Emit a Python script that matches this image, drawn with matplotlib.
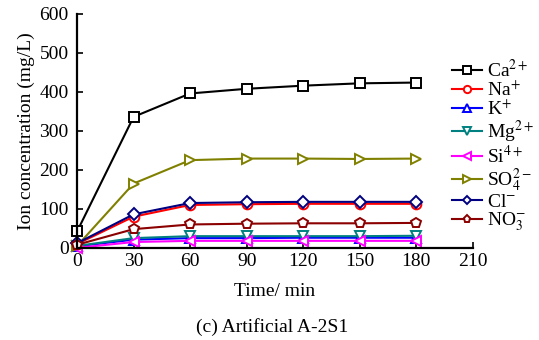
import numpy as np
import matplotlib.pyplot as plt

plt.rcParams['font.family'] = ['Liberation Serif', 'DejaVu Serif']
plt.rcParams['mathtext.fontset'] = 'stix'

time = [0, 30, 60, 90, 120, 150, 180]
ca = [42, 336, 396, 408, 416, 422, 424]
na = [10, 80, 110, 112, 113, 113, 113]
k = [4, 21, 25, 25, 26, 26, 26]
mg = [5, 25, 30, 30, 30, 30, 31]
si = [0, 15, 18, 18, 18, 18, 18]
so4 = [5, 165, 225, 229, 229, 228, 229]
cl = [12, 86, 115, 117, 118, 118, 118]
no3 = [8, 48, 60, 62, 63, 63, 64]

series = [
    (ca, r'Ca$^{2+}$', 'black', 's'),
    (na, r'Na$^{+}$', 'red', 'o'),
    (k, r'K$^{+}$', 'blue', '^'),
    (mg, r'Mg$^{2+}$', 'teal', 'v'),
    (si, r'Si$^{4+}$', 'magenta', '<'),
    (so4, r'SO$_4^{2-}$', 'olive', '>'),
    (cl, r'Cl$^{-}$', 'navy', 'D'),
    (no3, r'NO$_3^{-}$', 'darkred', 'p'),
]

fs = 14

fig = plt.figure(figsize=(5.39, 3.40), dpi=100)
ax = fig.add_axes([0.143, 0.271, 0.734, 0.688])

for vals, name, col, mk in series:
    ms = 6 if mk == 'D' else 7
    ax.plot(time, vals, color=col, marker=mk, markersize=ms, markerfacecolor='white',
            markeredgewidth=1.4, linewidth=1.5, label=name, clip_on=False)

ax.set_xlim(0, 210)
ax.set_ylim(0, 600)
ax.set_xticks(range(0, 211, 30))
ax.set_yticks(range(0, 601, 100))
ax.spines['top'].set_visible(False)
ax.spines['right'].set_visible(False)
ax.spines['left'].set_linewidth(1.6)
ax.spines['bottom'].set_linewidth(1.6)
ax.tick_params(direction='in', length=4, width=1.2, labelsize=fs)
ax.tick_params(axis='y', pad=6)
ax.tick_params(axis='x', pad=4)
ax.set_xlabel('Time/ min', fontsize=fs, labelpad=9)
ax.set_ylabel('Ion concentration (mg/L)', fontsize=fs, labelpad=3)

leg = fig.legend(loc='upper left', bbox_to_anchor=(0.825, 0.85), frameon=False, fontsize=fs,
                 handlelength=1.5, handletextpad=0.3, labelspacing=-0.02, borderaxespad=0,
                 markerscale=0.75)

fig.text(0.505, 0.025, '(c) Artificial A-2S1', ha='center', fontsize=fs)

fig.savefig('out.png', dpi=100)
